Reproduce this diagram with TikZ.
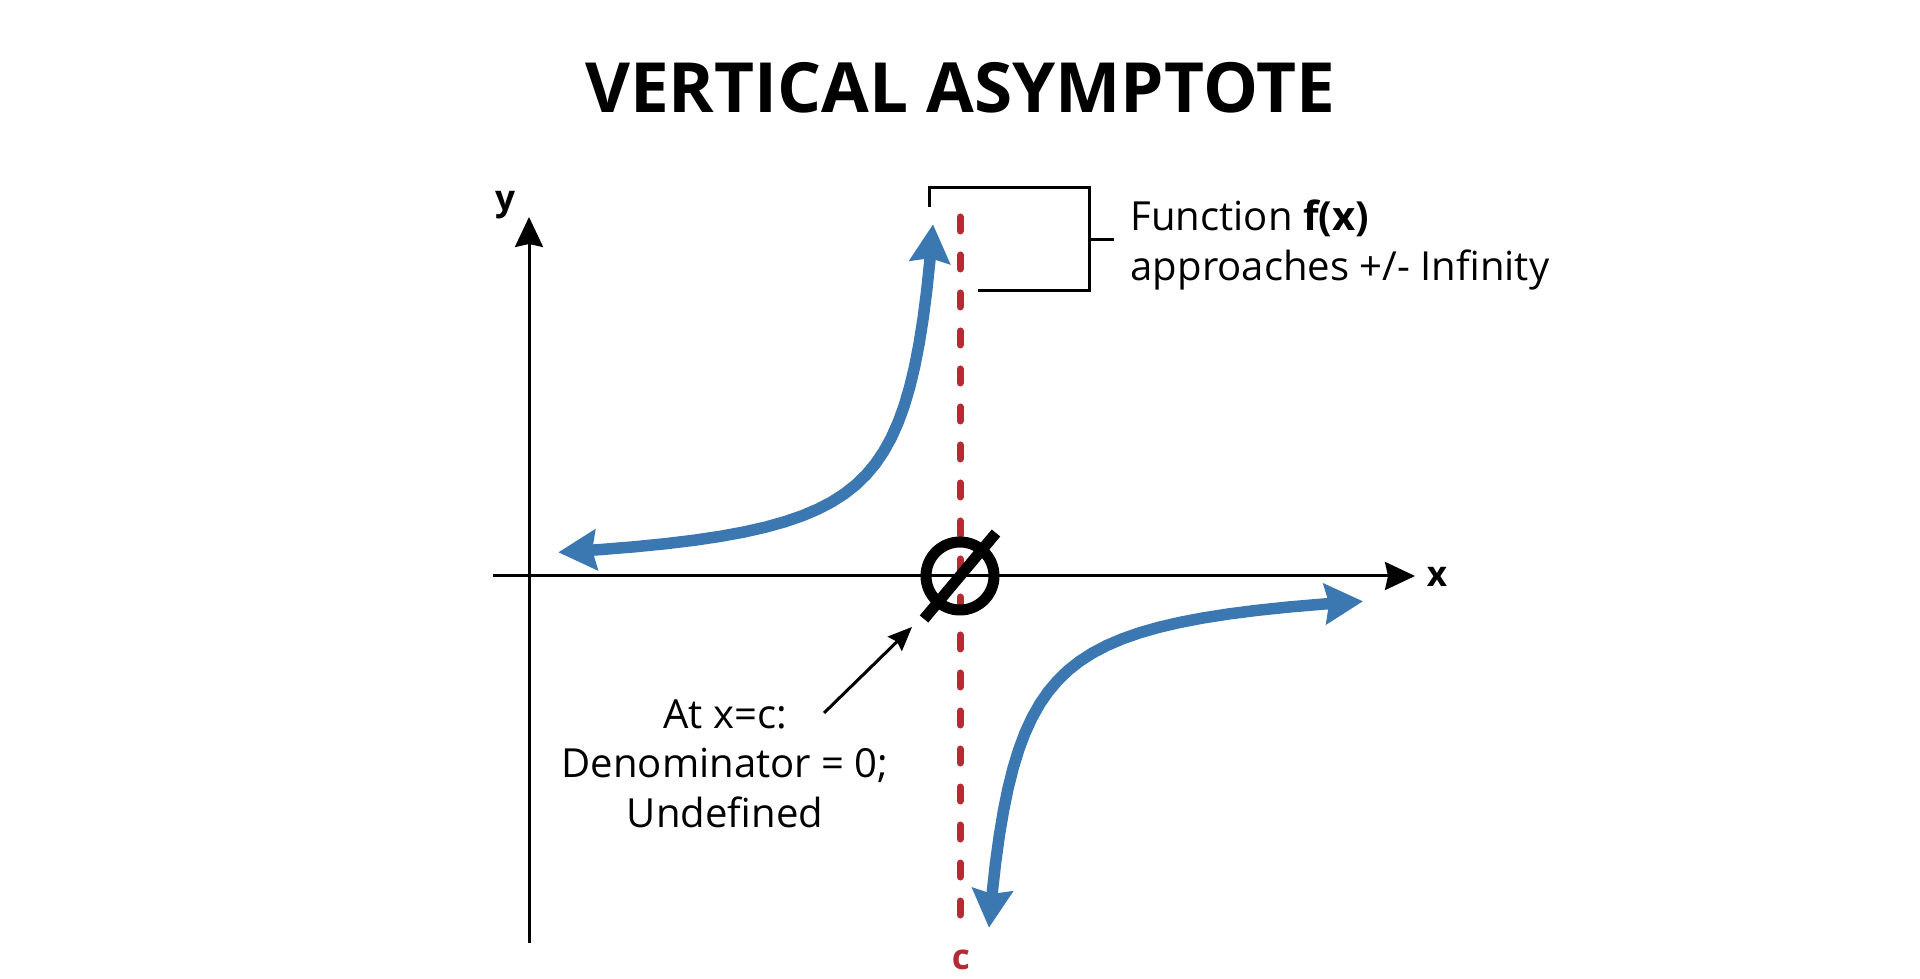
\documentclass[tikz,border=0pt]{standalone}
\usepackage{fontspec}
\setmainfont{Open Sans}
\usetikzlibrary{arrows.meta,positioning}
\definecolor{color1}{HTML}{3B77B0}
\definecolor{color2}{HTML}{B52A33}

\begin{document}
\begin{tikzpicture}[
  x=1cm,
  y=1cm,
  axl/.style={line width=0.03cm, -{Stealth[length=0.3cm, width=0.28cm, inset=0.03cm]}},
  branch/.style={color1, line width=0.115cm, line join=round,
    {Stealth[length=0.38cm, width=0.4cm, inset=0.04cm]}-{Stealth[length=0.38cm, width=0.4cm, inset=0.04cm]}},
  asym/.style={color2, line width=0.07cm, line cap=round, dash pattern=on 0.14cm off 0.24cm},
  brk/.style={line width=0.03cm},
  ptr/.style={line width=0.03cm, -{Stealth[length=0.24cm, width=0.2cm, inset=0.03cm]}},
  hole/.style={circle, draw, line width=0.11cm, minimum size=0.68cm, inner sep=0pt},
  txt/.style={font=\fontsize{11.4}{14.1}\selectfont},
  axlab/.style={font=\fontsize{10}{12}\selectfont\bfseries},
  every node/.style={inner sep=0pt}
]
\path[use as bounding box, fill=white] (0,0) rectangle (19.2,9.79);

% title
\node[font=\fontsize{19.7}{23}\selectfont\bfseries, anchor=base] (title) at (9.60,8.66) {VERTICAL ASYMPTOTE};

% axes
\coordinate (ybot) at (5.29,0.36);
\coordinate (ytop) at (5.29,7.62);
\coordinate (xleft) at (4.93,4.03);
\coordinate (xright) at (14.15,4.03);
\draw[axl] (ybot) -- (ytop);
\draw[axl] (xleft) -- (xright);
\node[axlab, anchor=base] (ylab) at (5.05,7.68) {y};
\node[axlab, anchor=base] (xlab) at (14.37,3.92) {x};

% asymptote at x=c
\coordinate (ctop) at (9.60,7.62);
\coordinate (cbot) at (9.60,0.42);
\draw[asym] (ctop) -- (cbot);
\node[axlab, text=color2, anchor=base] (clab) at (9.61,0.09) {c};

% empty set mark
\node[hole] (zero) at (9.60,4.03) {};
\draw[line width=0.11cm] (zero.center) ++(-0.36,-0.43) -- ++(0.72,0.86);

% the two branches
\draw[branch] plot[domain=-1.309:1.391, samples=27, variable=\t] ({9.60-exp(\t)},{4.03+0.95*exp(-\t)});
\draw[branch] plot[domain=-1.238:1.394, samples=27, variable=\t] ({9.60+exp(\t)},{4.03-1.02*exp(-\t)});

% callout bracket
\coordinate (bkl) at (9.29,7.72);
\coordinate (bktl) at (9.29,7.91);
\coordinate (bktr) at (10.89,7.91);
\coordinate (bkbr) at (10.89,6.88);
\coordinate (bkbl) at (9.78,6.88);
\coordinate (bkm) at (10.89,7.39);
\coordinate (bkt) at (11.14,7.39);
\draw[brk] (bkl) -- (bktl) -- (bktr) -- (bkbr) -- (bkbl);
\draw[brk] (bkm) -- (bkt);
\node[txt, align=left, anchor=west] (fxlab) at (11.30,7.34) {Function \textbf{f(x)}\\approaches +/- Infinity};

% label at x=c
\node[txt, align=center] (undef) at (7.25,2.155) {At x=c:\\Denominator = 0;\\Undefined};
\coordinate (ptrs) at (8.24,2.66);
\coordinate (ptre) at (9.12,3.52);
\draw[ptr] (ptrs) -- (ptre);
\end{tikzpicture}
\end{document}
